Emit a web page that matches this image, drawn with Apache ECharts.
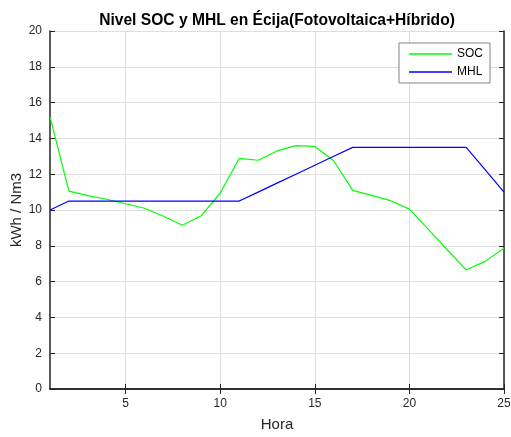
<!DOCTYPE html>
<html>
<head>
<meta charset="utf-8">
<script src="https://cdn.jsdelivr.net/npm/echarts@6/dist/echarts.min.js"></script>
<style>html,body{margin:0;padding:0;background:#fff}#c{width:511px;height:437px}</style>
</head>
<body>
<div id="c"></div>
<script>
const hours = [1,2,3,4,5,6,7,8,9,10,11,12,13,14,15,16,17,18,19,20,21,22,23,24,25];
const soc = [15.2,11.05,10.8,10.6,10.35,10.1,9.65,9.15,9.68,10.95,12.88,12.78,13.3,13.6,13.55,12.75,11.1,10.82,10.52,10.05,8.92,7.78,6.65,7.13,7.86];
const mhl = [10,10.5,10.5,10.5,10.5,10.5,10.5,10.5,10.5,10.5,10.5,11,11.5,12,12.5,13,13.5,13.5,13.5,13.5,13.5,13.5,13.5,12.25,11];
const xTicks = [5,10,15,20,25];
const yTicks = [0,2,4,6,8,10,12,14,16,18,20];

const font = 'Liberation Sans, Arial, Helvetica, sans-serif';
const dark = '#262626';
const chart = echarts.init(document.getElementById('c'), null, {renderer:'canvas'});
const pair = arr => hours.map((h,i)=>[h,arr[i]]);
chart.setOption({
  animation:false,
  title:{text:'Nivel SOC y MHL en Écija(Fotovoltaica+Híbrido)',left:272,textAlign:'center',top:8,
    textStyle:{fontFamily:font,fontSize:15.6,fontWeight:'bold',color:'#000'}},
  grid:{left:50,right:7,top:31,bottom:48,containLabel:false,outerBoundsMode:'none'},
  legend:{orient:'vertical',right:21,top:43,itemWidth:43,itemHeight:1.5,itemGap:4,icon:'rect',
    padding:[4,7,4,10],backgroundColor:'#fff',borderColor:'#808080',borderWidth:1,borderRadius:0,
    textStyle:{fontFamily:font,fontSize:12,color:'#000',lineHeight:14},data:['SOC','MHL']},
  xAxis:[{type:'value',min:1,max:25,position:'bottom',
    name:'Hora',nameLocation:'middle',nameGap:28,nameMoveOverlap:false,nameTextStyle:{fontFamily:font,fontSize:15,color:dark},
    axisLine:{show:true,lineStyle:{color:dark,width:1.5}},
    axisTick:{show:true,inside:true,length:5,lineStyle:{color:dark},customValues:xTicks},
    axisLabel:{fontFamily:font,fontSize:12,color:dark,margin:9,customValues:xTicks},
    splitLine:{show:true,lineStyle:{color:'#dedede',width:1}}},
   {type:'value',min:1,max:25,position:'top',
    axisLine:{show:true,lineStyle:{color:dark,width:1.5}},
    axisTick:{show:true,inside:true,length:5,lineStyle:{color:dark},customValues:xTicks},
    axisLabel:{show:false},splitLine:{show:false}}],
  yAxis:[{type:'value',min:0,max:20,interval:2,position:'left',
    name:'kWh / Nm3',nameLocation:'middle',nameGap:26,nameMoveOverlap:false,nameTextStyle:{fontFamily:font,fontSize:15,color:dark},
    axisLine:{show:true,lineStyle:{color:dark,width:1.5}},
    axisTick:{show:true,inside:true,length:5,lineStyle:{color:dark}},
    axisLabel:{fontFamily:font,fontSize:12,color:dark,margin:8,customValues:yTicks},
    splitLine:{show:true,lineStyle:{color:'#dedede',width:1}}},
   {type:'value',min:0,max:20,interval:2,position:'right',
    axisLine:{show:true,lineStyle:{color:dark,width:1.5}},
    axisTick:{show:true,inside:true,length:5,lineStyle:{color:dark}},
    axisLabel:{show:false},splitLine:{show:false}}],
  series:[
    {name:'SOC',type:'line',data:pair(soc),symbol:'none',lineStyle:{color:'#00ff00',width:1.2},itemStyle:{color:'#00ff00'}},
    {name:'MHL',type:'line',data:pair(mhl),symbol:'none',lineStyle:{color:'#0000ff',width:1.2},itemStyle:{color:'#0000ff'}}
  ]
});
</script>
</body>
</html>
